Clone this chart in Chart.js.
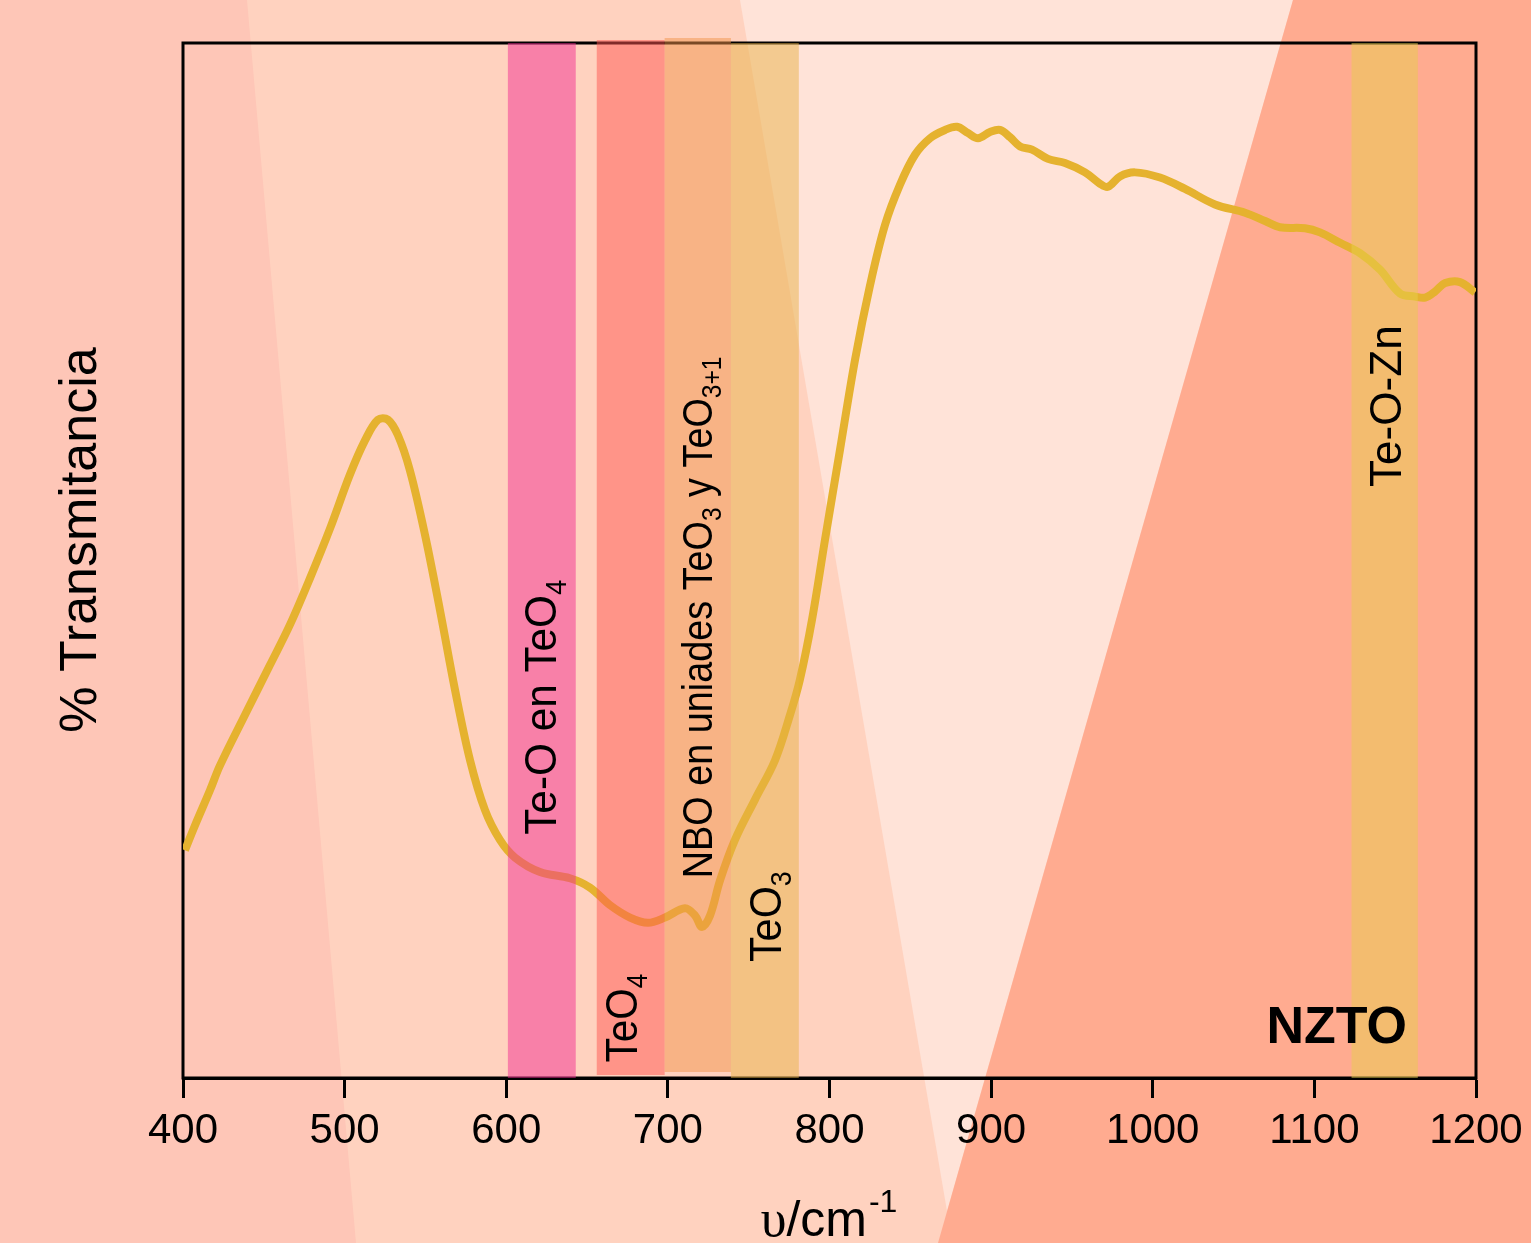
<!DOCTYPE html>
<html>
<head>
<meta charset="utf-8">
<script src="https://cdn.jsdelivr.net/npm/chart.js@4/dist/chart.umd.min.js"></script>
<style>
  html, body { margin: 0; padding: 0; background: #FFD2BF; }
  #wrap { width: 1531px; height: 1243px; position: relative; }
</style>
</head>
<body>
<div id="wrap"><canvas id="ftir"></canvas></div>
<script>
// 数据：波数 / 透过率
const wavenumbers = [401.2, 407.4, 416.7, 422.9, 438.4, 453.8, 466.2, 478.6, 491.0, 503.3,
    512.6, 520.6, 526.8, 533.0, 540.4, 549.7, 559.0, 568.3, 577.6, 586.8,
    596.1, 605.4, 620.9, 639.4, 651.8, 664.2, 676.6, 687.7, 698.2, 710.6,
    716.8, 721.1, 726.1, 732.3, 741.5, 753.9, 766.3, 775.6, 781.7, 789.2,
    797.2, 806.5, 815.8, 825.1, 834.3, 843.6, 852.9, 862.2, 871.5, 878.9,
    885.7, 891.9, 899.3, 905.5, 911.7, 917.9, 925.3, 935.2, 945.7, 958.1,
    967.4, 972.3, 979.7, 989.0, 1004.5, 1020.0, 1038.5, 1057.1, 1069.5, 1078.7,
    1094.2, 1103.5, 1115.9, 1128.2, 1140.6, 1153.0, 1162.3, 1168.5, 1174.7, 1180.9,
    1190.1, 1199.4];
const transmittance = [22.0, 24.4, 27.8, 30.2, 35.1, 39.9, 43.8, 48.3, 53.1, 58.3,
    61.6, 63.6, 63.6, 62.1, 58.7, 52.5, 45.2, 37.5, 30.7, 25.9,
    23.0, 21.3, 19.9, 19.3, 18.4, 16.7, 15.5, 15.0, 15.5, 16.4,
    15.7, 14.6, 15.7, 19.1, 23.0, 26.9, 30.7, 35.1, 38.5, 44.3,
    52.0, 60.7, 69.4, 76.6, 82.4, 86.3, 89.2, 90.8, 91.6, 91.9,
    91.3, 90.8, 91.4, 91.6, 90.9, 90.0, 89.7, 88.8, 88.4, 87.5,
    86.4, 86.1, 87.1, 87.5, 87.0, 85.9, 84.4, 83.6, 82.8, 82.2,
    82.1, 81.7, 80.7, 79.7, 78.1, 75.8, 75.5, 75.4, 76.0, 76.8,
    76.9, 75.9];

// x 轴范围与刻度
const xMin = 400, xMax = 1200, xStep = 100;

// 谱带区间
const bandStart = [601, 656, 698, 739, 1123];
const bandEnd   = [643, 698, 739, 781, 1164];
const bandLabels = [
    [{ t: 'Te-O en TeO' }, { t: '4', sub: true }],
    [{ t: 'TeO' }, { t: '4', sub: true }],
    [{ t: 'NBO en uniades TeO' }, { t: '3', sub: true }, { t: ' y TeO' }, { t: '3+1', sub: true }],
    [{ t: 'TeO' }, { t: '3', sub: true }],
    [{ t: 'Te-O-Zn' }]
];

// 样式
const bandColors = ['rgba(241,46,145,0.5)', 'rgba(255,86,81,0.5)', 'rgba(241,148,75,0.5)',
    'rgba(231,178,71,0.5)', 'rgba(232,205,78,0.5)'];
const bandTopPad = [0, 3, 5, 0, 0];
const bandBotPad = [0, 3, 6, 0, 0];
const labelStyle = [
    { dx: 14, at: 23.5, size: 45, sx: 0.94 },
    { dx: 6,  at: 1.5,  size: 45, sx: 0.9 },
    { dx: 14, at: 19.3, size: 42, sx: 0.9 },
    { dx: 16, at: 11.2, size: 45, sx: 0.92 },
    { dx: 16, at: 57.1, size: 45, sx: 0.98 }
];
const FONT = '"Liberation Sans", Arial, sans-serif';

function drawRotated(ctx, x, y, parts, size, sx) {
    ctx.save();
    ctx.translate(x, y);
    ctx.rotate(-Math.PI / 2);
    ctx.scale(sx, 1);
    ctx.fillStyle = '#000';
    ctx.textAlign = 'left';
    ctx.textBaseline = 'alphabetic';
    let cx = 0;
    parts.forEach(p => {
        const fs = p.sub ? size * 0.65 : size;
        ctx.font = fs + 'px ' + FONT;
        ctx.fillText(p.t, cx, p.sub ? size * 0.22 : 0);
        cx += ctx.measureText(p.t).width;
    });
    ctx.restore();
}

// 背景色块
const bgPlugin = {
    id: 'bg',
    beforeDraw(chart) {
        const ctx = chart.ctx, W = chart.width, H = chart.height;
        const poly = (pts, c) => {
            ctx.beginPath();
            pts.forEach((p, i) => i ? ctx.lineTo(p[0], p[1]) : ctx.moveTo(p[0], p[1]));
            ctx.closePath();
            ctx.fillStyle = c;
            ctx.fill();
        };
        ctx.save();
        ctx.fillStyle = '#FFD2BF';
        ctx.fillRect(0, 0, W, H);
        poly([[0, 0], [247, 0], [356, H], [0, H]], '#FEC6B7');
        poly([[740, 0], [1293, 0], [947, 1211]], '#FFE3D8');
        poly([[1293, 0], [W, 0], [W, H], [938, H]], '#FFAB90');
        ctx.restore();
    },
    beforeDatasetsDraw(chart) {
        const { ctx, chartArea: a } = chart;
        ctx.save();
        ctx.strokeStyle = '#000';
        ctx.lineWidth = 3;
        ctx.strokeRect(a.left, a.top, a.right - a.left, a.bottom - a.top);
        ctx.restore();
    },
    afterDatasetsDraw(chart) {
        const { ctx, chartArea: a } = chart;
        const xs = chart.scales.x, ys = chart.scales.y;
        ctx.save();
        bandStart.forEach((s, i) => {
            const x0 = xs.getPixelForValue(s), x1 = xs.getPixelForValue(bandEnd[i]);
            ctx.fillStyle = bandColors[i];
            ctx.fillRect(x0, a.top - bandTopPad[i], x1 - x0, a.bottom - a.top + bandTopPad[i] - bandBotPad[i]);
        });
        bandLabels.forEach((parts, i) => {
            const st = labelStyle[i];
            const cx = xs.getPixelForValue((bandStart[i] + bandEnd[i]) / 2) + st.dx;
            drawRotated(ctx, cx, ys.getPixelForValue(st.at), parts, st.size, st.sx);
        });

        // 样品名
        ctx.fillStyle = '#000';
        ctx.font = 'bold 52px ' + FONT;
        ctx.textAlign = 'right';
        ctx.textBaseline = 'alphabetic';
        ctx.fillText('NZTO', 1407, 1043);

        // y 轴标题
        ctx.save();
        ctx.translate(82, 540);
        ctx.rotate(-Math.PI / 2);
        ctx.font = '52px ' + FONT;
        ctx.textAlign = 'center';
        ctx.textBaseline = 'middle';
        ctx.fillText('% Transmitancia', 0, 0);
        ctx.restore();

        // x 轴标题
        ctx.textAlign = 'left';
        const serif = '"Liberation Serif", "DejaVu Serif", serif';
        ctx.font = '52px ' + serif;
        const uw = ctx.measureText('υ').width;
        ctx.font = '50px ' + FONT;
        const mw = ctx.measureText('/cm').width;
        ctx.font = '32px ' + FONT;
        const sw = ctx.measureText('-1').width;
        const startX = 828 - (uw + mw + sw) / 2;
        ctx.font = '52px ' + serif;
        ctx.fillText('υ', startX, 1236);
        ctx.font = '50px ' + FONT;
        ctx.fillText('/cm', startX + uw, 1236);
        ctx.font = '32px ' + FONT;
        ctx.fillText('-1', startX + uw + mw + 2, 1212);
        ctx.restore();
    }
};

const ctx = document.getElementById('ftir').getContext('2d');
new Chart(ctx, {
    type: 'line',
    data: {
        datasets: [{
            data: wavenumbers.map((w, i) => ({ x: w, y: transmittance[i] })),
            borderColor: '#E5B22F',
            borderWidth: 8,
            pointRadius: 0,
            tension: 0.35,
            fill: false
        }]
    },
    options: {
        responsive: true,
        maintainAspectRatio: false,
        animation: false,
        layout: { padding: { left: 183, right: 55, top: 43, bottom: 0 } },
        plugins: {
            legend: { display: false },
            tooltip: { enabled: false }
        },
        scales: {
            x: {
                type: 'linear',
                min: xMin,
                max: xMax,
                afterFit: s => { s.height = 165; },
                ticks: {
                    stepSize: xStep,
                    padding: 8,
                    color: '#000',
                    font: { family: FONT, size: 42 },
                    maxRotation: 0,
                    callback: v => String(v)
                },
                grid: {
                    drawOnChartArea: false,
                    drawTicks: true,
                    tickLength: 20,
                    tickWidth: 3,
                    tickColor: '#000'
                },
                border: { display: true, color: '#000', width: 3 }
            },
            y: {
                display: false,
                min: 0,
                max: 100
            }
        }
    },
    plugins: [bgPlugin]
});
</script>
</body>
</html>
